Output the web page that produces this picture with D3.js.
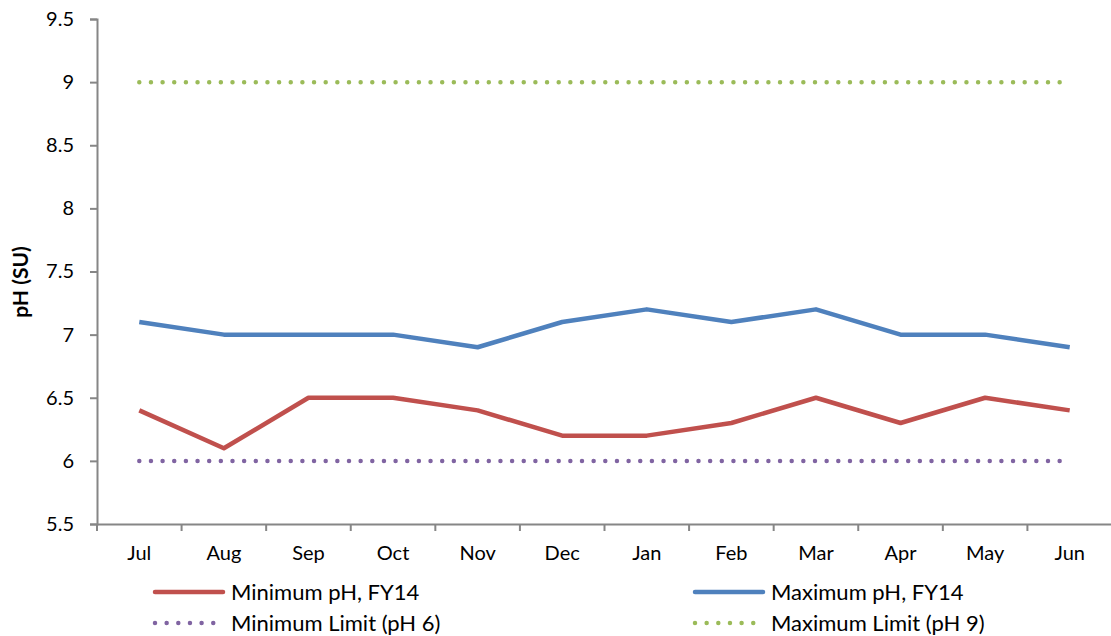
<!DOCTYPE html>
<html>
<head>
<meta charset="utf-8">
<script src="https://cdn.jsdelivr.net/npm/d3@7"></script>
<style>
  body { margin: 0; background: #fff; }
  text { font-family: Lato, "Open Sans", sans-serif; fill: #000; }
</style>
</head>
<body>
<svg id="chart" width="1111" height="636"></svg>
<script>
const months = ['Jul', 'Aug', 'Sep', 'Oct', 'Nov', 'Dec', 'Jan', 'Feb', 'Mar', 'Apr', 'May', 'Jun'];
const minPH = [6.4, 6.1, 6.5, 6.5, 6.4, 6.2, 6.2, 6.3, 6.5, 6.3, 6.5, 6.4];
const maxPH = [7.1, 7.0, 7.0, 7.0, 6.9, 7.1, 7.2, 7.1, 7.2, 7.0, 7.0, 6.9];
const minLimit = [6, 6, 6, 6, 6, 6, 6, 6, 6, 6, 6, 6];
const maxLimit = [9, 9, 9, 9, 9, 9, 9, 9, 9, 9, 9, 9];
const yTicks = [5.5, 6, 6.5, 7, 7.5, 8, 8.5, 9, 9.5];

const series = [
  {name: 'Minimum pH, FY14', values: minPH, color: '#C0504D', dotted: false},
  {name: 'Maximum pH, FY14', values: maxPH, color: '#4F81BD', dotted: false},
  {name: 'Minimum Limit (pH 6)', values: minLimit, color: '#8064A2', dotted: true},
  {name: 'Maximum Limit (pH 9)', values: maxLimit, color: '#9BBB59', dotted: true}
];

const margin = {top: 19, right: 0, bottom: 112, left: 97};
const svg = d3.select('#chart');

const x = d3.scaleBand().domain(months).range([margin.left, 1112]);
const y = d3.scaleLinear().domain([5.5, 9.5]).range([524, margin.top]);

const axisColor = '#868686';

// y axis
const yAxis = svg.append('g')
    .attr('transform', 'translate(' + margin.left + ',0)')
    .call(d3.axisLeft(y).tickValues(yTicks).tickFormat(d3.format('')).tickSize(7).tickPadding(16));
yAxis.select('.domain').attr('stroke', axisColor).attr('stroke-width', 2);
yAxis.selectAll('.tick line').attr('stroke', axisColor).attr('stroke-width', 2);
yAxis.selectAll('text').style('font-size', '20px').attr('fill', '#000');

// x axis
const xAxis = svg.append('g')
    .attr('transform', 'translate(0,524)')
    .call(d3.axisBottom(x).tickSize(0).tickPadding(22));
xAxis.select('.domain').attr('stroke', axisColor).attr('stroke-width', 2);
xAxis.selectAll('text').style('font-size', '20px').attr('fill', '#000');
// category boundary ticks
const bounds = months.map((m) => x(m)).concat([x(months[months.length - 1]) + x.bandwidth()]);
svg.append('g').selectAll('line').data(bounds).join('line')
    .attr('x1', (d) => d).attr('x2', (d) => d)
    .attr('y1', 524).attr('y2', 531)
    .attr('stroke', axisColor).attr('stroke-width', 2);

// y label
svg.append('text')
    .attr('transform', 'translate(28,282) rotate(-90)')
    .attr('text-anchor', 'middle')
    .style('font-size', '21px')
    .style('font-weight', 'bold')
    .text('pH (SU)');

const line = d3.line()
    .x((d, i) => x(months[i]) + x.bandwidth() / 2)
    .y((d) => y(d));

// draw limits first, then data
const order = [series[2], series[3], series[0], series[1]];
order.forEach((s) => {
  const p = svg.append('path')
      .datum(s.values)
      .attr('d', line)
      .attr('fill', 'none')
      .attr('stroke', s.color)
      .attr('stroke-width', 4.5);
  if (s.dotted) {
    p.attr('stroke-linecap', 'round').attr('stroke-dasharray', '0 11.65');
  } else {
    p.attr('stroke-linejoin', 'round');
  }
});

// legend
const legendPos = [
  {x: 155, y: 592}, {x: 695, y: 592},
  {x: 155, y: 623}, {x: 695, y: 623}
];
series.forEach((s, i) => {
  const g = svg.append('g').attr('transform', 'translate(' + legendPos[i].x + ',' + legendPos[i].y + ')');
  const l = g.append('line')
      .attr('x1', 0).attr('x2', s.dotted ? 64 : 68)
      .attr('y1', 0).attr('y2', 0)
      .attr('stroke', s.color)
      .attr('stroke-width', 4.5)
      .attr('stroke-linecap', 'round');
  if (s.dotted) l.attr('stroke-dasharray', '0 11.65');
  g.append('text')
      .attr('x', 76)
      .attr('dy', '0.35em')
      .style('font-size', '22px')
      .text(s.name);
});
</script>
</body>
</html>
